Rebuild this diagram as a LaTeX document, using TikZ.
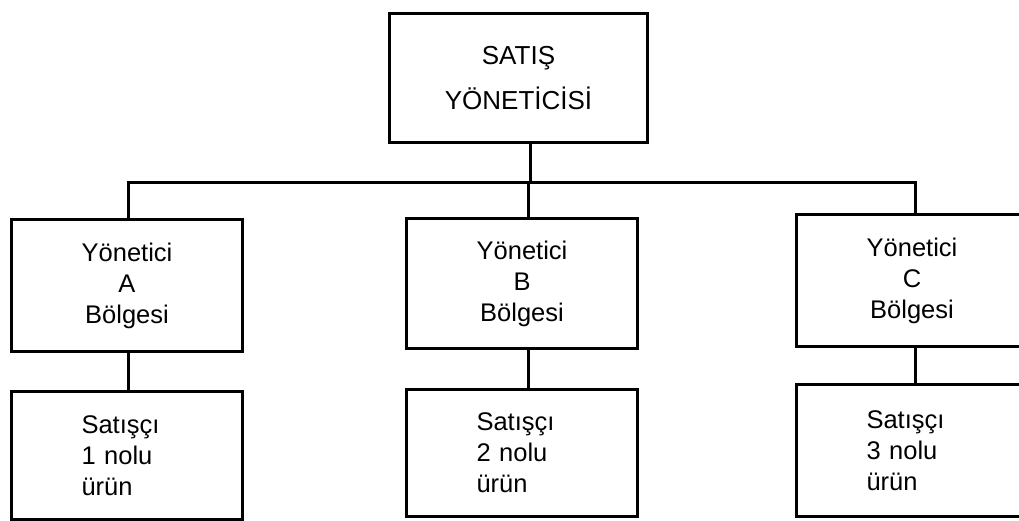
\documentclass[tikz,border=0pt]{standalone}
\usepackage{fontspec}
\setmainfont{Liberation Sans}
\begin{document}
\begin{tikzpicture}[x=1pt,y=-1pt,
  box/.style={draw, line width=3pt, rectangle, inner sep=0pt, anchor=north west,
    minimum width=231pt, align=center, font=\fontsize{25.5}{31}\selectfont},
  salesbox/.style={box, align=left, text width=91pt},
  link/.style={line width=3pt}]
\clip (0,0) rectangle (1019,520);
% sales manager
\node[box, minimum width=258pt, minimum height=129pt, font=\fontsize{26}{45}\selectfont] (top) at (388,12) {SATIŞ\\YÖNETİCİSİ};
% regional managers
\node[box, minimum height=132pt] (mA) at (10,218) {Yönetici\\A\\Bölgesi};
\node[box, minimum height=130pt] (mB) at (405,217) {Yönetici\\B\\Bölgesi};
\node[box, minimum height=132pt] (mC) at (795,213) {Yönetici\\C\\Bölgesi};
% salespeople
\node[salesbox, minimum height=128pt] (sA) at (10,390) {Satışçı\\1 nolu\\ürün};
\node[salesbox, minimum height=127pt] (sB) at (405,388) {Satışçı\\2 nolu\\ürün};
\node[salesbox, minimum height=132pt] (sC) at (795,383) {Satışçı\\3 nolu\\ürün};
% bus junctions
\coordinate (jA) at (128,182);
\coordinate (jT) at (530,182);
\coordinate (jB) at (528,182);
\coordinate (jC) at (915,182);
% connectors
\draw[link] (jT |- top.south) -- (jT);
\draw[link] (jA |- mA.north) -- (jA) -- (jC) -- (jC |- mC.north);
\draw[link] (jB) -- (jB |- mB.north);
\draw[link] (mA.south -| jA) -- (sA.north -| jA);
\draw[link] (mB.south -| jB) -- (sB.north -| jB);
\draw[link] (mC.south -| jC) -- (sC.north -| jC);
\end{tikzpicture}
\end{document}
